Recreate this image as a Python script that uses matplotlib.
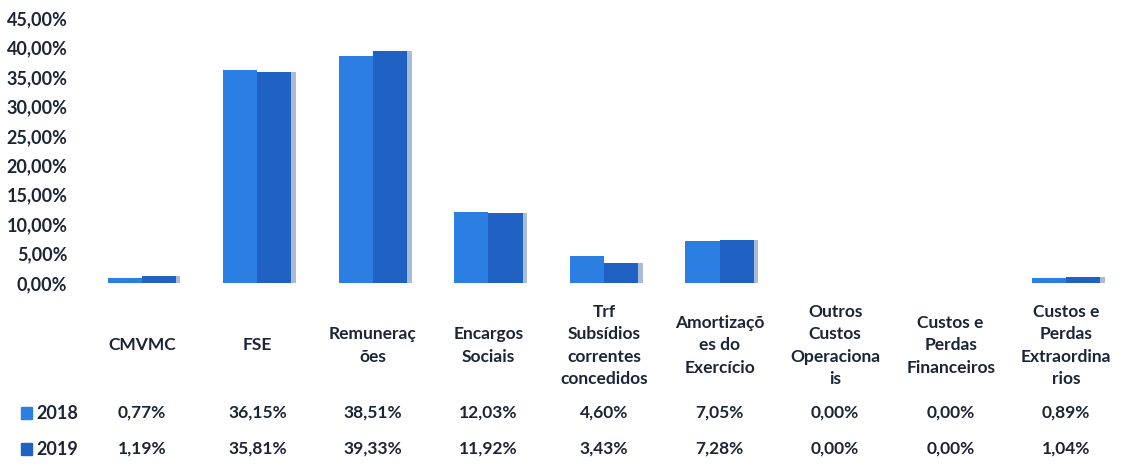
import numpy as np
import matplotlib.pyplot as plt

plt.rcParams['font.family'] = ['Lato', 'DejaVu Sans']

categories = ['CMVMC', 'FSE', 'Remuneraç\nões', 'Encargos\nSociais',
              'Trf\nSubsídios\ncorrentes\nconcedidos', 'Amortizaçõ\nes do\nExercício',
              'Outros\nCustos\nOperaciona\nis', 'Custos e\nPerdas\nFinanceiros',
              'Custos e\nPerdas\nExtraordina\nrios']
v2018 = [0.77, 36.15, 38.51, 12.03, 4.60, 7.05, 0.00, 0.00, 0.89]
v2019 = [1.19, 35.81, 39.33, 11.92, 3.43, 7.28, 0.00, 0.00, 1.04]
years = ['2018', '2019']
colors = ['#2b7fe3', '#1f62c4']
txt = '#1c2536'


def pct(v):
    return f'{v:.2f}%'.replace('.', ',')


fig = plt.figure(figsize=(11.26, 4.69), dpi=100)
ax = fig.add_axes([84 / 1126, (469 - 283) / 469, 1040 / 1126, 265 / 469])

x = np.arange(len(categories))
w = 0.295
ax.bar(x - w / 2, v2018, w, color=colors[0], edgecolor='none', zorder=2)
ax.bar(x + w / 2, v2019, w, color=colors[1], edgecolor='none', zorder=2)
# faint 3D side shading
ax.bar(x + w + 0.02, v2019, 0.04, color='#a9bbd6', edgecolor='none', zorder=1)

ax.set_xlim(-0.5, len(categories) - 0.5)
ax.set_ylim(0, 45)
ticks = np.arange(0, 46, 5)
ax.set_yticks(ticks)
ax.set_yticklabels([pct(t) for t in ticks], fontsize=13,
                   fontweight='bold', color=txt)
ax.tick_params(axis='y', length=0, pad=12)
ax.set_xticks([])
for s in ax.spines.values():
    s.set_visible(False)

tr = ax.get_xaxis_transform()
for xi, cat in zip(x, categories):
    ax.text(xi, -0.235, cat, transform=tr, ha='center', va='center',
            multialignment='center', fontsize=12.5, fontweight='bold',
            color=txt, linespacing=1.5)

# data table rows with legend keys
rows_px = [413, 449]
for vals, yr, c, ypx in zip([v2018, v2019], years, colors, rows_px):
    ry = (283 - ypx) / 265
    for xi, v in zip(x, vals):
        ax.text(xi, ry, pct(v), transform=tr, ha='center', va='center',
                fontsize=12.5, fontweight='bold', color=txt)
    fig.patches.append(plt.Rectangle((21 / 1126, (469 - ypx - 6) / 469),
                                     11 / 1126, 12 / 469,
                                     transform=fig.transFigure,
                                     color=c, figure=fig))
    fig.text(36 / 1126, (469 - ypx) / 469, yr, ha='left', va='center',
             fontsize=13, fontweight='bold', color=txt)

fig.savefig('out.png', dpi=100)
